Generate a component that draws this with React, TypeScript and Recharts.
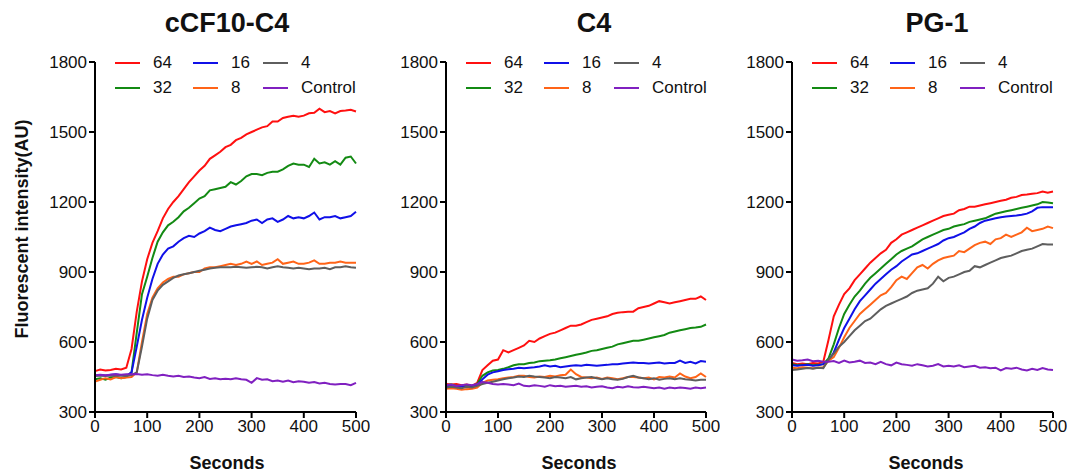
import React from 'react';
import { LineChart, Line, XAxis, YAxis } from 'recharts';

// time axis (s)
const seconds = [
  0, 10, 20, 30, 40, 50, 60, 70, 80, 90, 100, 110, 120, 130, 140, 150, 160, 170, 180, 190, 200,
  210, 220, 230, 240, 250, 260, 270, 280, 290, 300, 310, 320, 330, 340, 350, 360, 370, 380, 390, 400,
  410, 420, 430, 440, 450, 460, 470, 480, 490, 500,
];

const yTicks = [300, 600, 900, 1200, 1500, 1800];
const xTicks = [0, 100, 200, 300, 400, 500];

// cCF10-C4
const ccf_64 = [475, 482, 478, 480, 485, 482, 490, 570, 730, 860, 955, 1025, 1075, 1130, 1170, 1200, 1225, 1255, 1285, 1310, 1335, 1355, 1385, 1400, 1415, 1435, 1445, 1465, 1475, 1490, 1500, 1510, 1520, 1525, 1545, 1545, 1560, 1565, 1570, 1565, 1570, 1580, 1582, 1600, 1585, 1590, 1580, 1590, 1592, 1595, 1588];
const ccf_32 = [440, 445, 438, 448, 450, 445, 450, 470, 640, 805, 880, 960, 1030, 1070, 1100, 1115, 1135, 1160, 1175, 1195, 1215, 1225, 1250, 1255, 1260, 1265, 1285, 1275, 1290, 1310, 1320, 1320, 1315, 1325, 1330, 1330, 1340, 1355, 1365, 1360, 1360, 1350, 1385, 1365, 1370, 1360, 1375, 1360, 1390, 1395, 1365];
const ccf_16 = [455, 458, 455, 460, 462, 458, 455, 470, 580, 695, 790, 870, 935, 975, 1000, 1010, 1030, 1045, 1055, 1050, 1065, 1075, 1090, 1080, 1075, 1085, 1095, 1100, 1105, 1110, 1120, 1125, 1110, 1125, 1130, 1115, 1125, 1140, 1130, 1135, 1130, 1140, 1155, 1125, 1135, 1135, 1140, 1130, 1135, 1140, 1158];
const ccf_8 = [430, 438, 445, 440, 450, 445, 448, 450, 470, 600, 720, 790, 830, 855, 870, 880, 880, 890, 895, 900, 900, 915, 920, 920, 925, 930, 935, 930, 935, 945, 935, 945, 930, 935, 940, 955, 935, 940, 945, 935, 935, 940, 950, 935, 935, 940, 940, 945, 940, 940, 940];
const ccf_4 = [455, 455, 455, 455, 455, 455, 455, 458, 470, 580, 700, 780, 820, 845, 860, 875, 885, 890, 895, 900, 905, 910, 915, 918, 920, 920, 920, 922, 920, 918, 920, 922, 920, 915, 920, 925, 920, 918, 915, 918, 915, 912, 915, 915, 918, 912, 920, 920, 925, 920, 918];
const ccf_ctrl = [458, 460, 458, 460, 462, 460, 462, 462, 463, 460, 462, 458, 455, 460, 455, 452, 455, 450, 452, 448, 445, 450, 442, 445, 440, 442, 440, 445, 440, 438, 425, 445, 438, 440, 432, 435, 430, 435, 428, 432, 430, 425, 428, 422, 425, 420, 418, 420, 420, 415, 425];

// C4
const c4_64 = [420, 418, 420, 415, 418, 412, 425, 480, 500, 520, 525, 565, 555, 565, 575, 585, 605, 600, 615, 625, 635, 640, 650, 660, 670, 670, 675, 685, 695, 700, 705, 710, 720, 725, 728, 730, 730, 745, 750, 755, 765, 775, 770, 765, 770, 775, 780, 785, 785, 795, 780];
const c4_32 = [415, 418, 412, 410, 415, 412, 420, 455, 470, 478, 480, 485, 492, 500, 505, 505, 510, 512, 518, 520, 522, 525, 530, 535, 540, 545, 550, 555, 562, 565, 570, 575, 580, 590, 595, 600, 605, 605, 610, 615, 620, 625, 630, 640, 645, 650, 655, 660, 662, 665, 675];
const c4_16 = [410, 412, 408, 410, 405, 408, 415, 440, 460, 470, 475, 480, 483, 485, 490, 488, 490, 492, 495, 500, 495, 498, 492, 495, 498, 500, 498, 502, 500, 498, 500, 502, 505, 505, 508, 510, 512, 510, 510, 508, 510, 512, 508, 510, 510, 520, 510, 515, 508, 518, 515];
const c4_8 = [400, 402, 400, 395, 398, 400, 405, 425, 435, 438, 440, 445, 448, 450, 455, 455, 450, 448, 452, 450, 455, 452, 458, 460, 482, 462, 450, 448, 445, 448, 442, 448, 445, 440, 445, 450, 450, 448, 445, 448, 440, 450, 448, 452, 448, 465, 452, 445, 450, 465, 450];
const c4_4 = [405, 408, 405, 402, 408, 405, 412, 420, 425, 430, 435, 440, 445, 448, 452, 450, 455, 452, 450, 448, 445, 450, 448, 445, 450, 440, 445, 448, 450, 445, 440, 445, 440, 438, 442, 450, 455, 448, 445, 440, 445, 438, 442, 445, 440, 445, 440, 438, 435, 438, 438];
const c4_ctrl = [415, 418, 412, 415, 418, 415, 420, 428, 425, 420, 418, 420, 418, 415, 422, 412, 410, 415, 412, 408, 415, 410, 412, 408, 410, 412, 408, 410, 405, 408, 410, 405, 402, 408, 405, 410, 406, 405, 408, 405, 402, 405, 400, 405, 402, 405, 403, 400, 405, 402, 405];

// PG-1
const pg_64 = [510, 505, 508, 505, 510, 508, 515, 610, 710, 760, 805, 830, 865, 890, 915, 940, 960, 980, 995, 1025, 1040, 1060, 1070, 1080, 1090, 1100, 1110, 1120, 1130, 1140, 1145, 1150, 1165, 1170, 1180, 1180, 1185, 1190, 1195, 1200, 1205, 1210, 1218, 1222, 1230, 1232, 1235, 1238, 1245, 1240, 1245];
const pg_32 = [505, 500, 502, 505, 500, 502, 505, 530, 590, 660, 720, 760, 795, 820, 850, 875, 895, 915, 935, 955, 975, 990, 1000, 1010, 1025, 1040, 1050, 1060, 1070, 1080, 1085, 1095, 1100, 1105, 1115, 1120, 1125, 1130, 1140, 1150, 1155, 1160, 1165, 1170, 1175, 1180, 1185, 1190, 1200, 1198, 1195];
const pg_16 = [500, 498, 500, 502, 498, 500, 505, 520, 555, 610, 660, 700, 740, 775, 800, 825, 850, 870, 890, 910, 925, 945, 960, 975, 980, 990, 1000, 1010, 1020, 1035, 1045, 1050, 1060, 1070, 1085, 1095, 1110, 1120, 1125, 1130, 1135, 1138, 1140, 1142, 1145, 1150, 1160, 1175, 1178, 1178, 1178];
const pg_8 = [490, 488, 492, 490, 488, 490, 492, 520, 535, 575, 620, 660, 690, 720, 740, 760, 780, 800, 810, 835, 865, 880, 870, 895, 920, 930, 915, 935, 950, 960, 965, 970, 990, 985, 1000, 1015, 1025, 1030, 1020, 1040, 1045, 1060, 1050, 1060, 1070, 1090, 1075, 1080, 1085, 1095, 1088];
const pg_4 = [480, 482, 485, 488, 485, 490, 488, 525, 550, 580, 600, 625, 650, 670, 690, 700, 720, 740, 755, 765, 775, 785, 795, 810, 820, 825, 830, 850, 880, 860, 875, 880, 890, 900, 905, 925, 920, 930, 940, 950, 960, 965, 970, 980, 990, 995, 1000, 1010, 1020, 1018, 1018];
const pg_ctrl = [525, 520, 522, 525, 518, 520, 515, 515, 518, 510, 520, 512, 515, 520, 510, 512, 505, 515, 505, 500, 512, 505, 502, 498, 505, 500, 495, 498, 505, 495, 498, 495, 500, 492, 495, 498, 490, 492, 488, 490, 478, 488, 485, 490, 482, 478, 485, 480, 488, 482, 480];

const seriesNames = ['64', '32', '16', '8', '4', 'Control'];
const seriesColors = ['#ff1010', '#138a13', '#1010e8', '#ff6418', '#5e5e5e', '#8020c0'];

const FONT = '"Liberation Sans", Arial, sans-serif';

const buildRows = (cols: number[][]) =>
  seconds.map((t, i) => {
    const row: Record<string, number> = { t };
    seriesNames.forEach((n, k) => {
      row[n] = cols[k][i];
    });
    return row;
  });

const panels = [
  { title: 'cCF10-C4', left: 0, width: 370, mLeft: 35, titleX: 227, labelX: 227, data: buildRows([ccf_64, ccf_32, ccf_16, ccf_8, ccf_4, ccf_ctrl]) },
  { title: 'C4', left: 380, width: 340, mLeft: 6, titleX: 594, labelX: 579, data: buildRows([c4_64, c4_32, c4_16, c4_8, c4_4, c4_ctrl]) },
  { title: 'PG-1', left: 730, width: 337, mLeft: 2, titleX: 937, labelX: 926, data: buildRows([pg_64, pg_32, pg_16, pg_8, pg_4, pg_ctrl]) },
];

function LegendGrid({ x }: { x: number }) {
  const cols = [
    [0, 1],
    [2, 3],
    [4, 5],
  ];
  const colX = [20, 98, 168];
  return (
    <div style={{ position: 'absolute', left: x, top: 0 }}>
      {cols.map((pair, c) =>
        pair.map((k, r) => (
          <div
            key={k}
            style={{
              position: 'absolute',
              left: colX[c],
              top: 63 + r * 25 - 11,
              height: 22,
              display: 'flex',
              alignItems: 'center',
              whiteSpace: 'nowrap',
            }}
          >
            <span style={{ display: 'inline-block', width: 25, height: 2, background: seriesColors[k] }} />
            <span style={{ marginLeft: 13, fontSize: 17, fontFamily: FONT, color: '#111' }}>{seriesNames[k]}</span>
          </div>
        ))
      )}
    </div>
  );
}

export default function App() {
  return (
    <div style={{ position: 'absolute', left: 0, top: 0, width: 1067, height: 473, background: '#fff', fontFamily: FONT }}>
      <div
        style={{
          position: 'absolute',
          left: 22,
          top: 229,
          transform: 'translate(-50%, -50%) rotate(-90deg)',
          fontSize: 18,
          fontWeight: 'bold',
          whiteSpace: 'nowrap',
          color: '#111',
        }}
      >
        Fluorescent intensity(AU)
      </div>
      {panels.map((p) => (
        <React.Fragment key={p.title}>
          <div
            style={{
              position: 'absolute',
              left: p.titleX,
              top: 23,
              transform: 'translate(-50%, -50%)',
              fontSize: 27,
              fontWeight: 'bold',
              color: '#111',
            }}
          >
            {p.title}
          </div>
          <div
            style={{
              position: 'absolute',
              left: p.labelX,
              top: 463,
              transform: 'translate(-50%, -50%)',
              fontSize: 18,
              fontWeight: 'bold',
              color: '#111',
            }}
          >
            Seconds
          </div>
          <div style={{ position: 'absolute', left: p.left, top: 0 }}>
            <LineChart
              width={p.width}
              height={473}
              data={p.data}
              margin={{ top: 62, right: 14, bottom: 0, left: p.mLeft }}
            >
              <XAxis
                dataKey="t"
                type="number"
                domain={[0, 500]}
                ticks={xTicks}
                height={61}
                stroke="#000"
                strokeWidth={2}
                tickSize={6}
                tick={{ fill: '#111', fontSize: 17, fontFamily: FONT }}
                tickMargin={2}
              />
              <YAxis
                type="number"
                domain={[300, 1800]}
                ticks={yTicks}
                width={60}
                stroke="#000"
                strokeWidth={2}
                tickSize={6}
                tick={{ fill: '#111', fontSize: 17, fontFamily: FONT }}
                tickMargin={2}
                allowDataOverflow
              />
              {seriesNames.map((n, k) => (
                <Line
                  key={n}
                  dataKey={n}
                  type="linear"
                  stroke={seriesColors[k]}
                  strokeWidth={2}
                  dot={false}
                  isAnimationActive={false}
                />
              ))}
            </LineChart>
          </div>
          <LegendGrid x={p.left + p.mLeft + 60} />
        </React.Fragment>
      ))}
    </div>
  );
}
